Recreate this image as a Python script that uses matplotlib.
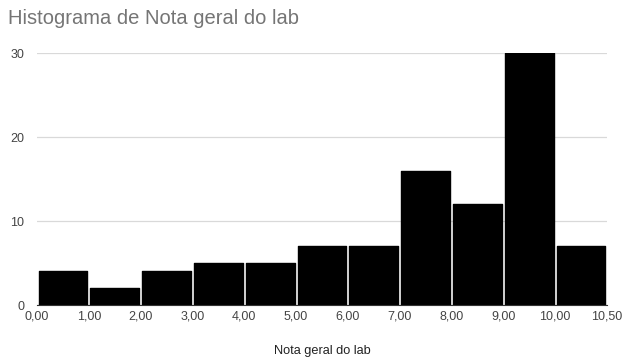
import matplotlib
matplotlib.use("Agg")
from matplotlib import pyplot as plt
import numpy as np

plt.rcParams['font.family'] = ['Liberation Sans', 'DejaVu Sans']

# histogram counts per bin and the bin edge labels
counts = [4, 2, 4, 5, 5, 7, 7, 16, 12, 30, 7]
edge_labels = ["0,00", "1,00", "2,00", "3,00", "4,00", "5,00", "6,00",
               "7,00", "8,00", "9,00", "10,00", "10,50"]
y_ticks = [0, 10, 20, 30]

fig = plt.figure(figsize=(6.23, 3.62), dpi=100)
ax = fig.add_axes([37/623, 57/362, 570/623, 252/362])

x = np.arange(len(counts)) + 0.5
ax.bar(x, counts, width=0.94, color="black", edgecolor="black",
       linewidth=1, joinstyle="round", zorder=3)

ax.set_xlim(0, len(counts))
ax.set_ylim(0, 30)
ax.set_xticks(np.arange(len(edge_labels)))
ax.set_xticklabels(edge_labels, fontsize=9, color="#444444")
ax.set_yticks(y_ticks)
ax.set_yticklabels([str(v) for v in y_ticks], fontsize=9, color="#444444")
ax.tick_params(length=0, pad=4)
ax.tick_params(axis="y", pad=9)
ax.grid(axis="y", color="#d9d9d9", linewidth=0.9, zorder=0)
for s in ["top", "right", "left"]:
    ax.spines[s].set_visible(False)
ax.spines["bottom"].set_color("#333333")
ax.spines["bottom"].set_zorder(4)

ax.set_xlabel("Nota geral do lab", fontsize=9.2, color="#222222", labelpad=16)
fig.text(8/623, 1 - 18/362, "Histograma de Nota geral do lab", fontsize=14.5,
         color="#757575", va="center", ha="left")

fig.savefig("out.png", dpi=100)
